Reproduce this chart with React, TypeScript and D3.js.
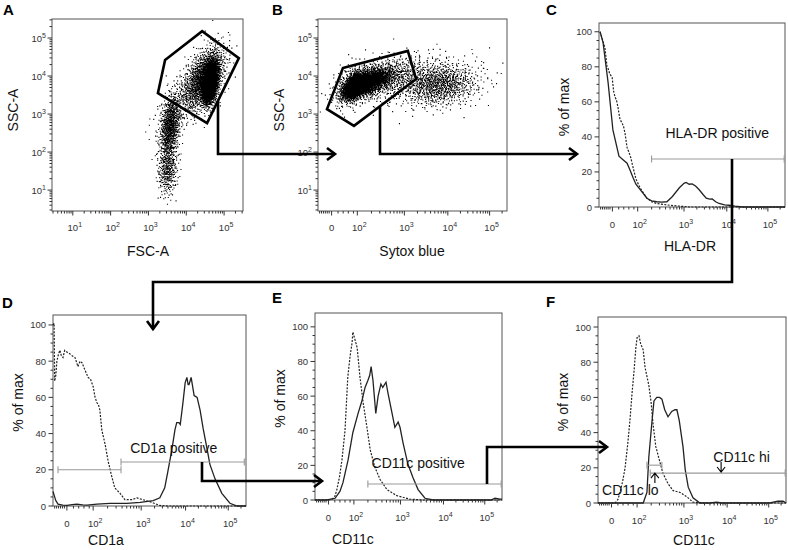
import React, { useMemo } from "react";
import * as d3 from "d3";

const FONT = '"Liberation Sans", Arial, Helvetica, sans-serif';

// ---------------- data ----------------
// histogram x values are decade positions on a biexponential axis (1 = "0", 2 = 10^2 ...)
const cSolid = [[0.54,100],[0.65,94],[0.84,71],[1.02,44],[1.18,34],[1.26,29],[1.42,27],[1.58,25],[1.7,21],[1.81,17],[1.93,13],[2.05,10],[2.2,5],[2.3,3.5],[2.41,3],[2.52,2.8],[2.63,3],[2.75,6],[2.9,11],[3.0,13.5],[3.05,14],[3.12,13],[3.19,13.2],[3.27,12],[3.35,10],[3.45,7],[3.52,5],[3.6,4.5],[3.66,4.6],[3.74,3],[3.82,2],[3.95,1.2],[4.05,1],[4.2,0.5],[4.38,0],[5.42,0]];
const cDotted = [[0.54,100],[0.62,96],[0.72,91],[0.8,80],[0.84,79],[0.9,76],[0.99,74],[1.05,66],[1.1,63],[1.16,61],[1.22,57],[1.3,50],[1.38,48],[1.44,46],[1.5,42],[1.58,34],[1.66,31],[1.73,28],[1.81,23],[1.93,16],[2.05,11],[2.2,5],[2.3,3],[2.41,2],[2.55,1.5],[2.69,1],[2.9,0.5],[3.12,0],[5.42,0]];
const dDotted = [[0.5,100],[0.54,101],[0.56,69],[0.6,72],[0.64,80],[0.7,84],[0.75,86],[0.8,83],[0.86,82],[0.92,86],[1.0,85],[1.12,84],[1.2,83],[1.31,82],[1.42,77],[1.5,80],[1.58,79],[1.69,75],[1.81,71],[1.9,70],[2.0,66],[2.04,60],[2.08,57],[2.11,56],[2.14,53],[2.18,42],[2.25,34],[2.31,25],[2.39,16],[2.45,10],[2.56,7],[2.66,3.5],[2.81,3.5],[2.91,4.5],[2.97,4],[3.04,3.5],[3.24,2],[3.42,0.3],[3.6,0],[5.42,0]];
const dSolid = [[0.5,8],[0.54,6],[0.6,3],[0.68,1],[0.85,0.5],[1.0,0.3],[1.2,0.8],[1.38,1],[1.6,0.6],[1.77,0.5],[2.08,1],[2.35,1.5],[2.7,1.5],[2.98,2],[3.27,3],[3.42,4.5],[3.53,10],[3.6,19],[3.69,31],[3.76,42],[3.8,46],[3.85,46],[3.88,45],[3.94,57],[3.99,68],[4.03,71],[4.06,67],[4.08,67],[4.13,71],[4.2,61],[4.27,60],[4.34,53],[4.41,43],[4.5,32],[4.57,23],[4.69,15],[4.85,7],[5.04,1.5],[5.21,0],[5.42,0]];
const eDotted = [[0.5,0],[1.0,0],[1.14,0.5],[1.25,2],[1.33,6],[1.43,13],[1.53,23],[1.65,40],[1.76,71],[1.85,83],[1.93,91],[1.96,97],[2.02,93],[2.07,88],[2.13,71],[2.2,56],[2.28,42],[2.35,29],[2.45,19],[2.56,12],[2.71,6],[2.92,2.5],[3.22,0.5],[3.52,0],[5.42,0]];
const eSolid = [[0.5,0],[0.94,0],[1.26,1],[1.45,5],[1.57,10],[1.77,23],[1.96,39],[2.09,50],[2.17,57],[2.24,65],[2.3,69],[2.34,72],[2.37,77],[2.41,69],[2.47,50],[2.52,60],[2.58,67],[2.62,65],[2.69,68],[2.73,62],[2.82,50],[2.88,42],[2.95,45],[2.99,42],[3.06,33],[3.17,21],[3.29,13],[3.41,6],[3.57,1],[3.76,0],[5.15,0],[5.25,1],[5.37,0.5],[5.42,0.5]];
const fDotted = [[0.5,0],[1.14,0],[1.25,2],[1.33,6],[1.43,12],[1.53,20],[1.63,33],[1.72,47],[1.8,62],[1.88,75],[1.95,88],[2.0,94],[2.04,95],[2.08,90],[2.1,89],[2.13,87],[2.17,77],[2.21,72],[2.25,67],[2.3,57],[2.34,45],[2.4,32],[2.49,23],[2.55,17],[2.66,11],[2.77,7],[2.92,6],[3.07,3.5],[3.21,0.5],[3.44,0],[5.42,0]];
const fSolid = [[0.5,0],[2.13,0],[2.21,6],[2.25,26],[2.32,47],[2.36,58],[2.42,60],[2.48,60],[2.53,59],[2.59,53],[2.66,49],[2.74,52],[2.81,53],[2.85,53],[2.9,47],[2.98,32],[3.03,19],[3.1,9],[3.21,3],[3.37,0],[3.6,0],[3.76,0.5],[3.87,0],[5.03,0],[5.22,1],[5.35,1],[5.42,0]];

// dot-plot populations: [centre x, centre y, sd x, sd y, correlation, events] in log10 units
const aPopulations = [[4.62,3.85,0.10,0.26,0.35,2600],[4.45,3.95,0.28,0.42,0.5,1300],[3.56,2.65,0.14,0.42,0.3,750],[3.5,1.55,0.13,0.35,0.1,330],[3.9,3.4,0.35,0.4,0.6,250]];
const bPopulations = [[2.05,3.8,0.3,0.18,0.55,2600],[2.3,3.9,0.55,0.3,0.5,1000],[3.75,3.78,0.45,0.28,0.1,850],[3.4,3.9,0.9,0.35,0.2,300]];

// gates
const aGateX = [3.44, 4.42, 5.39, 4.55, 3.25];
const aGateY = [4.42, 5.18, 4.47, 2.76, 3.55];
const bGateX = [1.44, 3.08, 3.27, 1.87, 0.83];
const bGateY = [4.21, 4.66, 3.92, 2.69, 3.13];

const logTicks = [1, 2, 3, 4, 5];
const biexTicks = [1, 2, 3, 4, 5];
const biexTickText = ["0", "2", "3", "4", "5"];
const pctTicks = [0, 20, 40, 60, 80, 100];

// ---------------- helpers ----------------
const biexFrac = [0, 0.072, 0.208, 0.457, 0.687, 0.908, 1];
const biexDomain = [0.5, 1, 2, 3, 4, 5, 5.42];
function biexScale(l: number, r: number) {
  return d3.scaleLinear().domain(biexDomain).range(biexFrac.map((f) => l + f * (r - l)));
}
function halton(i: number, b: number) {
  let f = 1, r = 0;
  while (i > 0) { f /= b; r += f * (i % b); i = Math.floor(i / b); }
  return r;
}
function genPoints(pops: number[][]) {
  const pts: number[][] = [];
  let idx = 1;
  for (const [cx, cy, sx, sy, rho, n] of pops) {
    for (let i = 0; i < n; i++, idx++) {
      const u1 = Math.max(halton(idx, 2), 1e-6);
      const u2 = halton(idx, 3);
      const rr = Math.sqrt(-2 * Math.log(u1));
      const z1 = rr * Math.cos(2 * Math.PI * u2);
      const z2 = rr * Math.sin(2 * Math.PI * u2);
      pts.push([cx + sx * z1, cy + sy * (rho * z1 + Math.sqrt(1 - rho * rho) * z2)]);
    }
  }
  return pts;
}
const logMinor = (lo: number, hi: number) => {
  const out: number[] = [];
  for (let d = 0; d <= 5; d++) for (let k = 2; k <= 9; k++) {
    const t = d + Math.log10(k);
    if (t > lo && t < hi) out.push(t);
  }
  return out;
};
const biexMinor = [0.56, 0.63, 0.7, 0.77, 0.84, 0.91, 1.25, 1.45, 1.65, 1.85, ...logMinor(2, 5.42)];

const Pow = ({ x, y, e, anchor = "middle" }: any) => (
  <text x={x} y={y} textAnchor={anchor} fontSize={9.5} fill="#333" fontFamily={FONT}>
    10<tspan dy={-4} fontSize={7}>{e}</tspan>
  </text>
);

const Box = ({ l, r, t, b }: any) => (
  <rect x={l} y={t} width={r - l} height={b - t} fill="none" stroke="#555" strokeWidth={1} />
);

function XTicks({ xs, major, minor, b }: any) {
  return (
    <g stroke="#333" strokeWidth={1}>
      {minor.map((v: number, i: number) => <line key={"m" + i} x1={xs(v)} x2={xs(v)} y1={b} y2={b + 2.5} />)}
      {major.map((v: number, i: number) => <line key={"M" + i} x1={xs(v)} x2={xs(v)} y1={b} y2={b + 4.5} />)}
    </g>
  );
}
function YTicks({ ys, major, minor, l }: any) {
  return (
    <g stroke="#333" strokeWidth={1}>
      {minor.map((v: number, i: number) => <line key={"m" + i} y1={ys(v)} y2={ys(v)} x1={l} x2={l - 2.5} />)}
      {major.map((v: number, i: number) => <line key={"M" + i} y1={ys(v)} y2={ys(v)} x1={l} x2={l - 4.5} />)}
    </g>
  );
}

function DotPanel({ id, box, xType, pops, gx, gy, xLabel, xLabelX }: any) {
  const { l, r, t, b } = box;
  const xs = xType === "log" ? d3.scaleLinear().domain([0.45, 5.5]).range([l, r]) : biexScale(l, r);
  const ys = d3.scaleLinear().domain([0.45, 5.5]).range([b, t]);
  const pts = useMemo(() => genPoints(pops), [pops]);
  const path = pts.map(([x, y]) => `M${xs(x).toFixed(1)},${ys(y).toFixed(1)}h1.1v1.1h-1.1z`).join("");
  const gate = d3.line()(gx.map((v: number, i: number) => [xs(v), ys(gy[i])]) as any) + "Z";
  const xMajor = xType === "log" ? logTicks : biexTicks;
  const xMinor = xType === "log" ? logMinor(0.45, 5.5) : biexMinor;
  return (
    <g>
      <clipPath id={id}><rect x={l} y={t} width={r - l} height={b - t} /></clipPath>
      <path d={path} fill="#000" clipPath={`url(#${id})`} />
      <path d={gate} fill="none" stroke="#000" strokeWidth={2.6} strokeLinejoin="miter" />
      <Box {...box} />
      <XTicks xs={xs} major={xMajor} minor={xMinor} b={b} />
      <YTicks ys={ys} major={logTicks} minor={logMinor(0.45, 5.5)} l={l} />
      {logTicks.map((v) => <Pow key={"y" + v} x={l - 6} y={ys(v) + 4} e={v} anchor="end" />)}
      {xMajor.map((v, i) =>
        xType !== "log" && i === 0 ? (
          <text key={"x" + v} x={xs(v)} y={b + 20} textAnchor="middle" fontSize={9.5} fill="#333" fontFamily={FONT}>0</text>
        ) : (
          <Pow key={"x" + v} x={xs(v) + 2} y={b + 20} e={xType === "log" ? v : biexTickText[i]} />
        )
      )}
      <text x={xLabelX} y={b + 45} textAnchor="middle" fontSize={14} fontFamily={FONT} fill="#111">{xLabel}</text>
      <text transform={`translate(${l - 34},${(t + b) / 2 - 5}) rotate(-90)`} textAnchor="middle" fontSize={14} fontFamily={FONT} fill="#111">SSC-A</text>
    </g>
  );
}

function HistPanel({ box, yMax, solid, dotted, xLabel, xLabelX, children }: any) {
  const { l, r, t, b } = box;
  const xs = biexScale(l, r);
  const ys = d3.scaleLinear().domain([0, yMax]).range([b, t]);
  const line = d3.line<number[]>().x((d) => xs(d[0])).y((d) => ys(d[1]));
  const pctMinor = d3.range(0, 101, 5).filter((v) => v % 20 !== 0);
  return (
    <g>
      <Box {...box} />
      <path d={line(dotted as any) || ""} fill="none" stroke="#222" strokeWidth={1.2} strokeDasharray="2,1.4" />
      <path d={line(solid as any) || ""} fill="none" stroke="#222" strokeWidth={1.3} />
      <XTicks xs={xs} major={biexTicks} minor={biexMinor} b={b} />
      <YTicks ys={ys} major={pctTicks} minor={pctMinor} l={l} />
      {pctTicks.map((v) => (
        <text key={v} x={l - 7} y={ys(v) + 3.5} textAnchor="end" fontSize={9.5} fill="#333" fontFamily={FONT}>{v}</text>
      ))}
      {biexTicks.map((v, i) =>
        i === 0 ? (
          <text key={v} x={xs(v)} y={b + 21} textAnchor="middle" fontSize={9.5} fill="#333" fontFamily={FONT}>0</text>
        ) : (
          <Pow key={v} x={xs(v) + 2} y={b + 21} e={biexTickText[i]} />
        )
      )}
      <text x={xLabelX} y={Math.min(b + 44, 545)} textAnchor="middle" fontSize={14} fontFamily={FONT} fill="#111">{xLabel}</text>
      <text transform={`translate(${l - 30},${(t + b) / 2 - 8}) rotate(-90)`} textAnchor="middle" fontSize={14} fontFamily={FONT} fill="#111">% of max</text>
      {children && children(xs, ys)}
    </g>
  );
}

function GateBar({ xs, ys, x0, x1, y }: any) {
  const Y = ys(y), X0 = xs(x0), X1 = xs(x1);
  return (
    <g stroke="#999" strokeWidth={1.1}>
      <line x1={X0} x2={X1} y1={Y} y2={Y} />
      <line x1={X0} x2={X0} y1={Y - 3.5} y2={Y + 3.5} />
      <line x1={X1} x2={X1} y1={Y - 3.5} y2={Y + 3.5} />
    </g>
  );
}

function Arrow({ pts, dir }: any) {
  const [tx, ty] = pts[pts.length - 1];
  const head = dir === "right"
    ? [[tx - 8, ty - 6], [tx, ty], [tx - 8, ty + 6]]
    : [[tx - 6, ty - 8], [tx, ty], [tx + 6, ty - 8]];
  return (
    <g fill="none" stroke="#000" strokeWidth={2.6}>
      <path d={d3.line()(pts) || ""} strokeLinejoin="miter" />
      <path d={d3.line()(head as any) || ""} strokeLinejoin="miter" />
    </g>
  );
}

const Letter = ({ x, y, c }: any) => (
  <text x={x} y={y} fontSize={15} fontWeight="bold" fontFamily={FONT} fill="#000">{c}</text>
);

export default function App() {
  const boxA = { l: 52, r: 243, t: 19, b: 211 };
  const boxB = { l: 318, r: 507, t: 19, b: 211 };
  const boxC = { l: 599, r: 785, t: 23, b: 207 };
  const boxD = { l: 53, r: 246, t: 315, b: 506 };
  const boxE = { l: 315, r: 502, t: 313, b: 500 };
  const boxF = { l: 598, r: 786, t: 317, b: 503 };
  return (
    <svg width={788} height={550} style={{ position: "absolute", left: 0, top: 0, background: "#fff" }}>
      <rect width={788} height={550} fill="#fff" />
      <Letter x={3} y={15} c="A" />
      <Letter x={272} y={15} c="B" />
      <Letter x={546} y={15} c="C" />
      <Letter x={2} y={308} c="D" />
      <Letter x={272} y={303} c="E" />
      <Letter x={546} y={307} c="F" />

      <DotPanel id="clipA" box={boxA} xType="log" pops={aPopulations} gx={aGateX} gy={aGateY} xLabel="FSC-A" xLabelX={148} />
      <DotPanel id="clipB" box={boxB} xType="biex" pops={bPopulations} gx={bGateX} gy={bGateY} xLabel="Sytox blue" xLabelX={412} />

      <HistPanel box={boxC} yMax={105} solid={cSolid} dotted={cDotted} xLabel="HLA-DR" xLabelX={690}>
        {(xs: any, ys: any) => (
          <g>
            <GateBar xs={xs} ys={ys} x0={2.3} x1={5.4} y={27.4} />
            <text x={xs(2.6)} y={ys(39.5)} fontSize={14} fontFamily={FONT} fill="#111">HLA-DR positive</text>
          </g>
        )}
      </HistPanel>
      <HistPanel box={boxD} yMax={105.5} solid={dSolid} dotted={dDotted} xLabel="CD1a" xLabelX={106}>
        {(xs: any, ys: any) => (
          <g>
            <GateBar xs={xs} ys={ys} x0={0.68} x1={2.58} y={20} />
            <GateBar xs={xs} ys={ys} x0={2.58} x1={5.38} y={24.3} />
            <text x={xs(2.77)} y={ys(29)} fontSize={14} fontFamily={FONT} fill="#111">CD1a positive</text>
          </g>
        )}
      </HistPanel>
      <HistPanel box={boxE} yMax={108} solid={eSolid} dotted={eDotted} xLabel="CD11c" xLabelX={353}>
        {(xs: any, ys: any) => (
          <g>
            <GateBar xs={xs} ys={ys} x0={2.3} x1={5.4} y={9.2} />
            <text x={xs(2.38)} y={ys(18.5)} fontSize={14} fontFamily={FONT} fill="#111">CD11c positive</text>
          </g>
        )}
      </HistPanel>
      <HistPanel box={boxF} yMax={105.7} solid={fSolid} dotted={fDotted} xLabel="CD11c" xLabelX={694}>
        {(xs: any, ys: any) => (
          <g>
            <GateBar xs={xs} ys={ys} x0={2.21} x1={2.53} y={21.5} />
            <GateBar xs={xs} ys={ys} x0={2.28} x1={5.4} y={17} />
            <g fill="none" stroke="#000" strokeWidth={1.1}>
              <path d={`M${xs(2.38)},${ys(11.3)}V${ys(17)}M${xs(2.38) - 4},${ys(17) + 5}L${xs(2.38)},${ys(17)}L${xs(2.38) + 4},${ys(17) + 5}`} />
              <path d={`M${xs(3.86)},${ys(23.3)}V${ys(17.6)}M${xs(3.86) - 4},${ys(17.6) - 5}L${xs(3.86)},${ys(17.6)}L${xs(3.86) + 4},${ys(17.6) - 5}`} />
            </g>
            <text x={xs(3.68)} y={ys(23.3)} fontSize={14} fontFamily={FONT} fill="#111">CD11c hi</text>
            <text x={xs(0.65)} y={ys(4.5)} fontSize={14} fontFamily={FONT} fill="#111">CD11c lo</text>
          </g>
        )}
      </HistPanel>

      <Arrow pts={[[218, 101], [218, 154], [335, 154]]} dir="right" />
      <Arrow pts={[[380, 106], [380, 154], [577, 154]]} dir="right" />
      <Arrow pts={[[732, 159], [732, 282], [153, 282], [153, 329]]} dir="down" />
      <Arrow pts={[[202, 462], [202, 481], [322, 481]]} dir="right" />
      <Arrow pts={[[487, 484], [487, 447], [607, 447]]} dir="right" />
    </svg>
  );
}
